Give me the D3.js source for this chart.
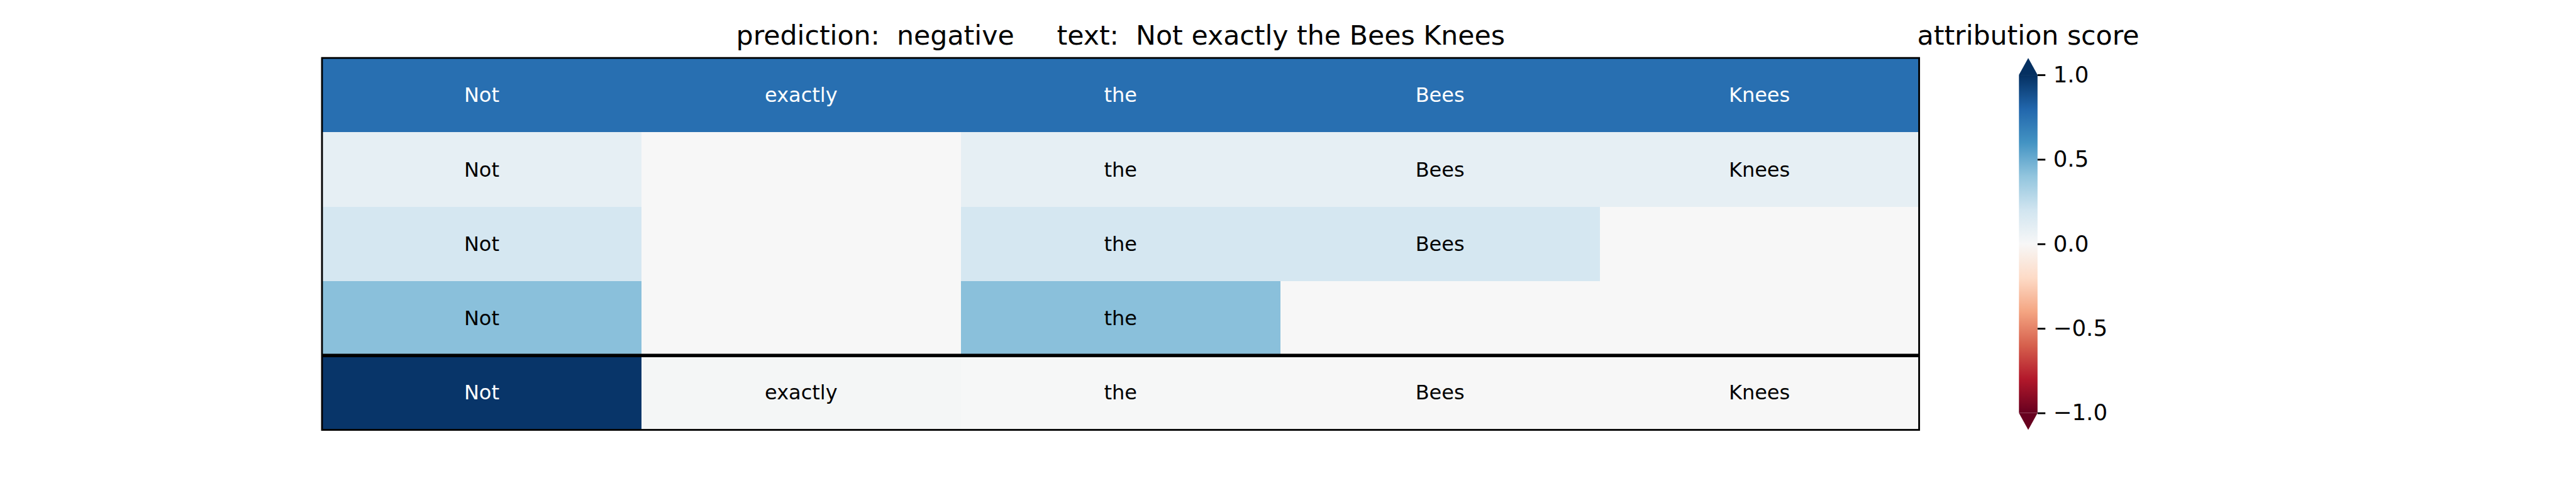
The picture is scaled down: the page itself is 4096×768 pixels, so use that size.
<!DOCTYPE html>
<html>
<head>
<meta charset="utf-8">
<script src="https://cdn.jsdelivr.net/npm/d3@7"></script>
<style>
  html, body { margin: 0; padding: 0; background: #ffffff; }
  svg { display: block; }
  text { font-family: "DejaVu Sans", sans-serif; }
</style>
</head>
<body>
<div id="chart"></div>
<script>
// ---------- data ----------
const tokens = ["Not", "exactly", "the", "Bees", "Knees"];
const rowTokens = [
  ["Not", "exactly", "the", "Bees", "Knees"],
  ["Not", null, "the", "Bees", "Knees"],
  ["Not", null, "the", "Bees", null],
  ["Not", null, "the", null, null],
  ["Not", "exactly", "the", "Bees", "Knees"]
];
const rowValues = [
  [0.76, 0.76, 0.76, 0.76, 0.76],
  [0.09, 0.00, 0.09, 0.09, 0.09],
  [0.18, 0.00, 0.18, 0.18, 0.00],
  [0.42, 0.00, 0.42, 0.00, 0.00],
  [0.98, 0.015, 0.005, 0.00, 0.00]
];
const cbTicks = [-1.0, -0.5, 0.0, 0.5, 1.0];
const predictionLabel = "negative";
const sentence = "Not exactly the Bees Knees";
const cbTitle = "attribution score";
// matplotlib RdBu anchor colours
const rdbuColors = ["#67001f", "#b2182b", "#d6604d", "#f4a582", "#fddbc7", "#f7f7f7",
                    "#d1e5f0", "#92c5de", "#4393c3", "#2166ac", "#053061"];

// ---------- layout (reference pixel space 4800x900, scaled to window) ----------
const W = 4800, H = 900;
const svg = d3.select("#chart").append("svg")
  .attr("width", 4096).attr("height", 768)
  .attr("viewBox", `0 0 ${W} ${H}`);

const axL = 600, axR = 3576, axT = 108, axB = 801;

const color = d3.scaleLinear()
  .domain(d3.range(11).map(i => -1 + i * 0.2))
  .range(rdbuColors)
  .interpolate(d3.interpolateRgb)
  .clamp(true);

const x = d3.scaleBand().domain(d3.range(tokens.length)).range([axL, axR]).padding(0);
const y = d3.scaleBand().domain(d3.range(rowValues.length)).range([axT, axB]).padding(0);

// cells
const cells = [];
rowValues.forEach((row, r) => row.forEach((v, c) => cells.push({ r, c, v, t: rowTokens[r][c] })));

svg.append("g").selectAll("rect").data(cells).join("rect")
  .attr("x", d => x(d.c)).attr("y", d => y(d.r))
  .attr("width", x.bandwidth()).attr("height", y.bandwidth())
  .attr("fill", d => color(d.v))
  .attr("shape-rendering", "crispEdges");

svg.append("g").selectAll("text").data(cells.filter(d => d.t)).join("text")
  .attr("x", d => x(d.c) + x.bandwidth() / 2)
  .attr("y", d => y(d.r) + y.bandwidth() / 2)
  .attr("text-anchor", "middle")
  .attr("dominant-baseline", "central")
  .attr("font-size", 37.5)
  .attr("fill", d => Math.abs(d.v) > 0.5 ? "#ffffff" : "#000000")
  .text(d => d.t);

// separator line above last row
svg.append("line")
  .attr("x1", axL).attr("x2", axR)
  .attr("y1", y(rowValues.length - 1)).attr("y2", y(rowValues.length - 1))
  .attr("stroke", "#000").attr("stroke-width", 6.25);

// frame
svg.append("rect")
  .attr("x", axL).attr("y", axT).attr("width", axR - axL).attr("height", axB - axT)
  .attr("fill", "none").attr("stroke", "#000").attr("stroke-width", 3.33);

// title
svg.append("text")
  .attr("x", (axL + axR) / 2).attr("y", 83)
  .attr("text-anchor", "middle")
  .attr("font-size", 50)
  .attr("xml:space", "preserve")
  .style("white-space", "pre")
  .text(`prediction:  ${predictionLabel}     text:  ${sentence}`);

// ---------- colorbar ----------
const cbL = 3762, cbW = 34.65;
const extFrac = 0.05;
const interior = (axB - axT) / (1 + 2 * extFrac);
const cbTop = axT + interior * extFrac, cbBot = axB - interior * extFrac;
const cbY = d3.scaleLinear().domain([-1, 1]).range([cbBot, cbTop]);

const defs = svg.append("defs");
const grad = defs.append("linearGradient").attr("id", "cbgrad")
  .attr("x1", 0).attr("y1", 1).attr("x2", 0).attr("y2", 0);
grad.selectAll("stop").data(color.domain()).join("stop")
  .attr("offset", d => (d + 1) / 2)
  .attr("stop-color", d => color(d));

svg.append("rect")
  .attr("x", cbL).attr("y", cbTop).attr("width", cbW).attr("height", cbBot - cbTop)
  .attr("fill", "url(#cbgrad)");

svg.append("path")
  .attr("d", `M${cbL},${cbTop}L${cbL + cbW},${cbTop}L${cbL + cbW / 2},${axT}Z`)
  .attr("fill", color(1));
svg.append("path")
  .attr("d", `M${cbL},${cbBot}L${cbL + cbW},${cbBot}L${cbL + cbW / 2},${axB}Z`)
  .attr("fill", color(-1));

const cbAxis = d3.axisRight(cbY).tickValues(cbTicks)
  .tickFormat(d3.format(".1f")).tickSize(14.6).tickPadding(14.6);
const cbG = svg.append("g").attr("transform", `translate(${cbL + cbW},0)`).call(cbAxis);
cbG.select(".domain").remove();
cbG.selectAll(".tick line").attr("stroke", "#000").attr("stroke-width", 3.33);
cbG.selectAll(".tick text").attr("font-size", 41.67).attr("fill", "#000")
  .attr("font-family", "DejaVu Sans, sans-serif");

svg.append("text")
  .attr("x", cbL + cbW / 2).attr("y", 83)
  .attr("text-anchor", "middle")
  .attr("font-size", 50)
  .text(cbTitle);
</script>
</body>
</html>
